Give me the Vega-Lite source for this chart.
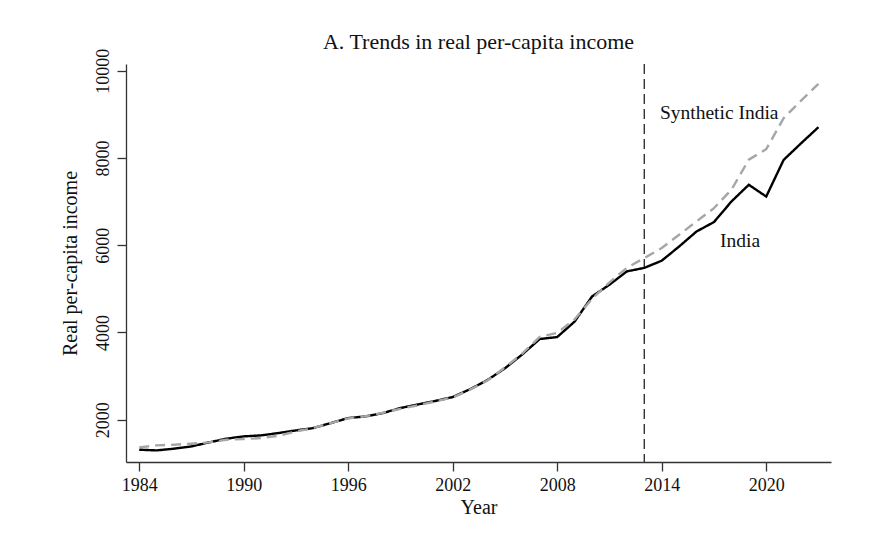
{
  "$schema": "https://vega.github.io/schema/vega-lite/v6.json",
  "width": 705,
  "height": 398,
  "autosize": {"type": "none"},
  "padding": {"left": 126, "top": 64, "right": 63, "bottom": 88},
  "background": "white",
  "title": {
    "text": "A. Trends in real per-capita income",
    "font": "Liberation Serif",
    "fontSize": 22,
    "fontWeight": "normal",
    "color": "#111",
    "anchor": "middle",
    "baseline": "alphabetic",
    "offset": -23
  },
  "datasets": {
    "income": [
      {"year": 1984, "series": "India", "value": 1313},
      {"year": 1985, "series": "India", "value": 1297},
      {"year": 1986, "series": "India", "value": 1336},
      {"year": 1987, "series": "India", "value": 1389},
      {"year": 1988, "series": "India", "value": 1480},
      {"year": 1989, "series": "India", "value": 1565},
      {"year": 1990, "series": "India", "value": 1618},
      {"year": 1991, "series": "India", "value": 1641},
      {"year": 1992, "series": "India", "value": 1695},
      {"year": 1993, "series": "India", "value": 1755},
      {"year": 1994, "series": "India", "value": 1809},
      {"year": 1995, "series": "India", "value": 1924},
      {"year": 1996, "series": "India", "value": 2038},
      {"year": 1997, "series": "India", "value": 2076},
      {"year": 1998, "series": "India", "value": 2153},
      {"year": 1999, "series": "India", "value": 2268},
      {"year": 2000, "series": "India", "value": 2350},
      {"year": 2001, "series": "India", "value": 2430},
      {"year": 2002, "series": "India", "value": 2520},
      {"year": 2003, "series": "India", "value": 2700},
      {"year": 2004, "series": "India", "value": 2910},
      {"year": 2005, "series": "India", "value": 3180},
      {"year": 2006, "series": "India", "value": 3500},
      {"year": 2007, "series": "India", "value": 3850},
      {"year": 2008, "series": "India", "value": 3895},
      {"year": 2009, "series": "India", "value": 4250},
      {"year": 2010, "series": "India", "value": 4825},
      {"year": 2011, "series": "India", "value": 5095},
      {"year": 2012, "series": "India", "value": 5400},
      {"year": 2013, "series": "India", "value": 5480},
      {"year": 2014, "series": "India", "value": 5645},
      {"year": 2015, "series": "India", "value": 5970},
      {"year": 2016, "series": "India", "value": 6315},
      {"year": 2017, "series": "India", "value": 6530},
      {"year": 2018, "series": "India", "value": 7000},
      {"year": 2019, "series": "India", "value": 7385},
      {"year": 2020, "series": "India", "value": 7115},
      {"year": 2021, "series": "India", "value": 7955},
      {"year": 2022, "series": "India", "value": 8335},
      {"year": 2023, "series": "India", "value": 8705},
      {"year": 1984, "series": "Synthetic India", "value": 1366},
      {"year": 1985, "series": "Synthetic India", "value": 1412},
      {"year": 1986, "series": "Synthetic India", "value": 1427},
      {"year": 1987, "series": "Synthetic India", "value": 1450},
      {"year": 1988, "series": "Synthetic India", "value": 1480},
      {"year": 1989, "series": "Synthetic India", "value": 1542},
      {"year": 1990, "series": "Synthetic India", "value": 1557},
      {"year": 1991, "series": "Synthetic India", "value": 1580},
      {"year": 1992, "series": "Synthetic India", "value": 1633},
      {"year": 1993, "series": "Synthetic India", "value": 1733},
      {"year": 1994, "series": "Synthetic India", "value": 1809},
      {"year": 1995, "series": "Synthetic India", "value": 1924},
      {"year": 1996, "series": "Synthetic India", "value": 2030},
      {"year": 1997, "series": "Synthetic India", "value": 2080},
      {"year": 1998, "series": "Synthetic India", "value": 2160},
      {"year": 1999, "series": "Synthetic India", "value": 2250},
      {"year": 2000, "series": "Synthetic India", "value": 2330},
      {"year": 2001, "series": "Synthetic India", "value": 2420},
      {"year": 2002, "series": "Synthetic India", "value": 2510},
      {"year": 2003, "series": "Synthetic India", "value": 2690},
      {"year": 2004, "series": "Synthetic India", "value": 2900},
      {"year": 2005, "series": "Synthetic India", "value": 3200},
      {"year": 2006, "series": "Synthetic India", "value": 3520},
      {"year": 2007, "series": "Synthetic India", "value": 3900},
      {"year": 2008, "series": "Synthetic India", "value": 3990},
      {"year": 2009, "series": "Synthetic India", "value": 4300},
      {"year": 2010, "series": "Synthetic India", "value": 4770},
      {"year": 2011, "series": "Synthetic India", "value": 5150},
      {"year": 2012, "series": "Synthetic India", "value": 5480},
      {"year": 2013, "series": "Synthetic India", "value": 5705},
      {"year": 2014, "series": "Synthetic India", "value": 5935},
      {"year": 2015, "series": "Synthetic India", "value": 6240},
      {"year": 2016, "series": "Synthetic India", "value": 6545},
      {"year": 2017, "series": "Synthetic India", "value": 6850},
      {"year": 2018, "series": "Synthetic India", "value": 7270},
      {"year": 2019, "series": "Synthetic India", "value": 7960},
      {"year": 2020, "series": "Synthetic India", "value": 8200},
      {"year": 2021, "series": "Synthetic India", "value": 8910},
      {"year": 2022, "series": "Synthetic India", "value": 9315},
      {"year": 2023, "series": "Synthetic India", "value": 9700}
    ],
    "treatment": [{"year": 2013}],
    "labels": [
      {"year": 2017.3, "value": 8894, "label": "Synthetic India"},
      {"year": 2018.5, "value": 5970, "label": "India"}
    ]
  },
  "layer": [
    {
      "data": {"name": "treatment"},
      "mark": {"type": "rule", "color": "#333", "strokeWidth": 1.4, "strokeDash": [10, 5]},
      "encoding": {
        "x": {"field": "year", "type": "quantitative"}
      }
    },
    {
      "data": {"name": "income"},
      "mark": {"type": "line", "strokeWidth": 2.4},
      "encoding": {
        "x": {
          "field": "year",
          "type": "quantitative",
          "title": "Year",
          "scale": {"domain": [1983.24, 2023.72], "nice": false, "zero": false},
          "axis": {"values": [1984, 1990, 1996, 2002, 2008, 2014, 2020], "format": "d"}
        },
        "y": {
          "field": "value",
          "type": "quantitative",
          "title": "Real per-capita income",
          "scale": {"domain": [1031, 10153], "nice": false, "zero": false},
          "axis": {
            "values": [2000, 4000, 6000, 8000, 10000],
            "format": "d",
            "labelAngle": -90,
            "labelAlign": "center",
            "labelBaseline": "alphabetic",
            "labelPadding": 9,
            "titlePadding": 14
          }
        },
        "color": {
          "field": "series",
          "type": "nominal",
          "scale": {"domain": ["India", "Synthetic India"], "range": ["#000000", "#a6a6a6"]},
          "legend": null
        },
        "strokeDash": {
          "field": "series",
          "type": "nominal",
          "scale": {"domain": ["India", "Synthetic India"], "range": [[1, 0], [10, 6]]},
          "legend": null
        }
      }
    },
    {
      "data": {"name": "labels"},
      "mark": {"type": "text", "font": "Liberation Serif", "fontSize": 19.5, "color": "#111", "baseline": "alphabetic", "align": "center"},
      "encoding": {
        "x": {"field": "year", "type": "quantitative"},
        "y": {"field": "value", "type": "quantitative"},
        "text": {"field": "label"}
      }
    }
  ],
  "config": {
    "view": {"stroke": null},
    "axis": {
      "grid": false,
      "domainColor": "#333",
      "domainWidth": 1.3,
      "tickColor": "#333",
      "tickWidth": 1.3,
      "tickSize": 9,
      "labelFont": "Liberation Serif",
      "labelFontSize": 18,
      "labelColor": "#111",
      "titleFont": "Liberation Serif",
      "titleFontSize": 20,
      "titleFontWeight": "normal",
      "titleColor": "#111"
    },
    "axisX": {"labelPadding": 5, "titlePadding": 3}
  }
}
